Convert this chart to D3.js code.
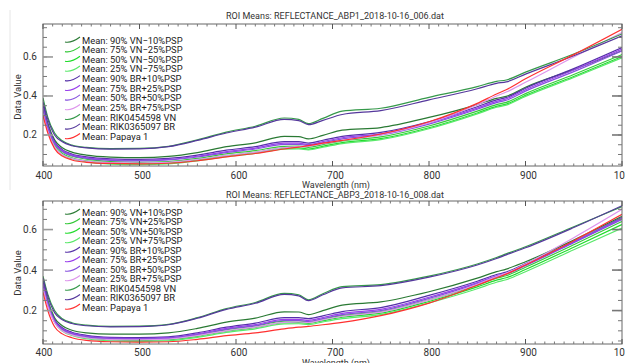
<!DOCTYPE html>
<html>
<head>
<meta charset="utf-8">
<script src="https://cdn.jsdelivr.net/npm/d3@7"></script>
<style>
  body { margin: 0; background: #fff; }
  svg { display: block; font-family: Roboto, "Noto Sans", sans-serif; }
</style>
</head>
<body>
<div id="chart"></div>
<script>
// Wavelength sample points (nm)
const wavelengths = [400, 405, 412, 420, 430, 445, 470, 500, 530, 560, 590, 620, 650, 665, 675, 690, 710, 750, 800, 850, 870, 880, 900, 950, 1000];

const xTicks = [400, 500, 600, 700, 800, 900, 1000];
const yTicks = [0.2, 0.4, 0.6];

const namesTop = [
  'Mean: 90% VN\u221210%PSP', 'Mean: 75% VN\u221225%PSP', 'Mean: 50% VN\u221250%PSP', 'Mean: 25% VN\u221275%PSP',
  'Mean: 90% BR+10%PSP', 'Mean: 75% BR+25%PSP', 'Mean: 50% BR+50%PSP', 'Mean: 25% BR+75%PSP',
  'Mean: RIK0454598 VN', 'Mean: RIK0365097 BR', 'Mean: Papaya 1'
];
const namesBottom = [
  'Mean: 90% VN+10%PSP', 'Mean: 75% VN+25%PSP', 'Mean: 50% VN+50%PSP', 'Mean: 25% VN+75%PSP',
  'Mean: 90% BR+10%PSP', 'Mean: 75% BR+25%PSP', 'Mean: 50% BR+50%PSP', 'Mean: 25% BR+75%PSP',
  'Mean: RIK0454598 VN', 'Mean: RIK0365097 BR', 'Mean: Papaya 1'
];
const colors = ['#2a7a34', '#36c93a', '#1fdc2a', '#5ae86a', '#5530a8', '#9a40ec', '#8650de', '#dd95ec', '#35994a', '#55389c', '#ff3030'];

// ABP1 (top panel) values, one array per series, same order as names
const top90VN  = [0.36, 0.26, 0.175, 0.135, 0.112, 0.097, 0.087, 0.084, 0.090, 0.110, 0.140, 0.160, 0.193, 0.192, 0.180, 0.198, 0.225, 0.238, 0.290, 0.356, 0.388, 0.398, 0.445, 0.535, 0.632];
const top75VN  = [0.35, 0.25, 0.160, 0.115, 0.092, 0.076, 0.064, 0.060, 0.064, 0.080, 0.103, 0.120, 0.142, 0.143, 0.137, 0.151, 0.170, 0.190, 0.246, 0.322, 0.356, 0.367, 0.412, 0.510, 0.612];
const top50VN  = [0.34, 0.24, 0.150, 0.105, 0.083, 0.067, 0.056, 0.052, 0.056, 0.072, 0.094, 0.111, 0.133, 0.134, 0.128, 0.142, 0.161, 0.181, 0.237, 0.313, 0.347, 0.358, 0.403, 0.500, 0.602];
const top25VN  = [0.33, 0.23, 0.145, 0.100, 0.078, 0.062, 0.051, 0.048, 0.052, 0.067, 0.089, 0.106, 0.128, 0.129, 0.124, 0.137, 0.156, 0.176, 0.232, 0.308, 0.342, 0.353, 0.398, 0.495, 0.596];
const top90BR  = [0.35, 0.25, 0.165, 0.125, 0.102, 0.088, 0.078, 0.075, 0.080, 0.097, 0.122, 0.140, 0.166, 0.166, 0.158, 0.173, 0.193, 0.213, 0.268, 0.345, 0.380, 0.392, 0.440, 0.540, 0.648];
const top75BR  = [0.34, 0.24, 0.160, 0.120, 0.098, 0.083, 0.073, 0.070, 0.075, 0.091, 0.115, 0.133, 0.158, 0.158, 0.151, 0.166, 0.186, 0.206, 0.262, 0.338, 0.372, 0.385, 0.432, 0.533, 0.640];
const top50BR  = [0.33, 0.235, 0.155, 0.115, 0.094, 0.080, 0.070, 0.067, 0.072, 0.087, 0.110, 0.128, 0.152, 0.152, 0.146, 0.160, 0.180, 0.200, 0.256, 0.332, 0.366, 0.378, 0.425, 0.525, 0.632];
const top25BR  = [0.31, 0.22, 0.140, 0.100, 0.080, 0.066, 0.058, 0.056, 0.060, 0.075, 0.095, 0.112, 0.135, 0.140, 0.142, 0.155, 0.172, 0.200, 0.262, 0.355, 0.400, 0.420, 0.470, 0.600, 0.725];
const topRikVN = [0.39, 0.29, 0.210, 0.170, 0.148, 0.136, 0.130, 0.131, 0.142, 0.175, 0.215, 0.245, 0.287, 0.280, 0.258, 0.285, 0.322, 0.337, 0.393, 0.448, 0.475, 0.482, 0.522, 0.615, 0.718];
const topRikBR = [0.37, 0.28, 0.200, 0.165, 0.145, 0.134, 0.128, 0.129, 0.140, 0.172, 0.210, 0.240, 0.280, 0.274, 0.253, 0.275, 0.305, 0.325, 0.380, 0.437, 0.465, 0.472, 0.512, 0.606, 0.708];
const topPapaya = [0.30, 0.21, 0.130, 0.092, 0.072, 0.060, 0.054, 0.052, 0.055, 0.068, 0.088, 0.105, 0.128, 0.138, 0.145, 0.158, 0.172, 0.205, 0.268, 0.362, 0.410, 0.432, 0.488, 0.612, 0.742];

// ABP3 (bottom panel) values
const bot90VN  = [0.35, 0.25, 0.165, 0.125, 0.103, 0.090, 0.084, 0.084, 0.090, 0.112, 0.143, 0.163, 0.194, 0.193, 0.180, 0.200, 0.227, 0.243, 0.293, 0.360, 0.392, 0.405, 0.441, 0.548, 0.665];
const bot75VN  = [0.35, 0.25, 0.155, 0.110, 0.088, 0.072, 0.061, 0.058, 0.062, 0.080, 0.106, 0.124, 0.148, 0.149, 0.144, 0.158, 0.176, 0.195, 0.253, 0.325, 0.360, 0.372, 0.414, 0.525, 0.640];
const bot50VN  = [0.34, 0.24, 0.148, 0.104, 0.082, 0.066, 0.055, 0.052, 0.056, 0.073, 0.098, 0.116, 0.140, 0.141, 0.137, 0.150, 0.167, 0.187, 0.245, 0.317, 0.350, 0.362, 0.403, 0.513, 0.625];
const bot25VN  = [0.33, 0.23, 0.142, 0.099, 0.077, 0.061, 0.050, 0.047, 0.051, 0.068, 0.092, 0.110, 0.134, 0.135, 0.131, 0.144, 0.160, 0.180, 0.238, 0.308, 0.340, 0.352, 0.392, 0.500, 0.607];
const bot90BR  = [0.34, 0.24, 0.155, 0.115, 0.093, 0.078, 0.068, 0.066, 0.070, 0.090, 0.118, 0.138, 0.165, 0.165, 0.160, 0.174, 0.195, 0.215, 0.275, 0.345, 0.378, 0.390, 0.432, 0.540, 0.660];
const bot75BR  = [0.33, 0.235, 0.150, 0.110, 0.089, 0.074, 0.064, 0.062, 0.066, 0.085, 0.112, 0.131, 0.157, 0.157, 0.152, 0.166, 0.186, 0.206, 0.266, 0.338, 0.372, 0.384, 0.426, 0.538, 0.655];
const bot50BR  = [0.32, 0.23, 0.145, 0.106, 0.085, 0.070, 0.061, 0.059, 0.063, 0.081, 0.107, 0.126, 0.151, 0.151, 0.146, 0.160, 0.180, 0.200, 0.260, 0.333, 0.367, 0.380, 0.422, 0.535, 0.650];
const bot25BR  = [0.31, 0.22, 0.140, 0.100, 0.080, 0.066, 0.057, 0.055, 0.059, 0.076, 0.100, 0.118, 0.142, 0.144, 0.141, 0.154, 0.172, 0.192, 0.252, 0.330, 0.368, 0.385, 0.430, 0.560, 0.700];
const botRikVN = [0.37, 0.28, 0.200, 0.160, 0.140, 0.128, 0.122, 0.123, 0.132, 0.165, 0.210, 0.240, 0.285, 0.278, 0.253, 0.283, 0.318, 0.328, 0.370, 0.430, 0.462, 0.480, 0.515, 0.614, 0.713];
const botRikBR = [0.36, 0.27, 0.190, 0.155, 0.136, 0.125, 0.120, 0.121, 0.130, 0.162, 0.206, 0.236, 0.280, 0.273, 0.249, 0.278, 0.312, 0.323, 0.365, 0.425, 0.457, 0.475, 0.510, 0.610, 0.718];
const botPapaya = [0.29, 0.20, 0.120, 0.085, 0.066, 0.053, 0.046, 0.044, 0.046, 0.058, 0.076, 0.090, 0.110, 0.118, 0.122, 0.130, 0.142, 0.175, 0.237, 0.325, 0.362, 0.380, 0.425, 0.545, 0.675];

const width = 625, height = 363;

const svg = d3.select('#chart').append('svg')
  .attr('width', width)
  .attr('height', height);

// faint window border on the left of the top screenshot
svg.append('line')
  .attr('x1', 10).attr('x2', 10).attr('y1', 10).attr('y2', 190)
  .style('stroke', '#e6e6e6').style('stroke-width', 1);

const panels = [
  {
    id: 'p1',
    title: 'ROI Means: REFLECTANCE_ABP1_2018-10-16_006.dat',
    names: namesTop,
    values: [top90VN, top75VN, top50VN, top25VN, top90BR, top75BR, top50BR, top25BR, topRikVN, topRikBR, topPapaya],
    top: 24, bottom: 166, yDomain: [0.041, 0.769],
    titleY: 19, xLabelY: 178.5, xTitleY: 187.5, yTitleY: 97, legendY: 40, legendStep: 9.65
  },
  {
    id: 'p2',
    title: 'ROI Means: REFLECTANCE_ABP3_2018-10-16_008.dat',
    names: namesBottom,
    values: [bot90VN, bot75VN, bot50VN, bot25VN, bot90BR, bot75BR, bot50BR, bot25BR, botRikVN, botRikBR, botPapaya],
    top: 201, bottom: 344, yDomain: [0.035, 0.741],
    titleY: 197.5, xLabelY: 356, xTitleY: 366, yTitleY: 273, legendY: 212, legendStep: 9.5
  }
];

const left = 43, right = 622;
const x = d3.scaleLinear().domain([400, 1000]).range([left, right]);

panels.forEach(p => {
  const y = d3.scaleLinear().domain(p.yDomain).range([p.bottom, p.top]);
  const g = svg.append('g');

  g.append('clipPath').attr('id', 'clip-' + p.id)
    .append('rect')
    .attr('x', left).attr('y', p.top)
    .attr('width', right - left).attr('height', p.bottom - p.top);

  // Title
  g.append('text')
    .attr('x', 335).attr('y', p.titleY)
    .attr('text-anchor', 'middle')
    .style('font-size', '9px').style('fill', '#333')
    .text(p.title);

  // Lines
  const line = d3.line()
    .x((d, i) => x(wavelengths[i]))
    .y(d => y(d))
    .curve(d3.curveMonotoneX);

  g.append('g').attr('clip-path', `url(#clip-${p.id})`)
    .selectAll('path')
    .data(p.values)
    .enter()
    .append('path')
    .attr('d', d => line(d))
    .style('fill', 'none')
    .style('stroke', (d, i) => colors[i])
    .style('stroke-width', 1.2);

  // Frame
  g.append('rect')
    .attr('x', left).attr('y', p.top)
    .attr('width', right - left).attr('height', p.bottom - p.top)
    .style('fill', 'none').style('stroke', '#666').style('stroke-width', 1);

  // X minor + major ticks (inward, top and bottom)
  const xMinor = d3.range(410, 1000, 10).filter(v => v % 100 !== 0);
  xMinor.forEach(v => {
    g.append('line').attr('x1', x(v)).attr('x2', x(v)).attr('y1', p.bottom).attr('y2', p.bottom - 2.5)
      .style('stroke', '#777');
    g.append('line').attr('x1', x(v)).attr('x2', x(v)).attr('y1', p.top).attr('y2', p.top + 2.5)
      .style('stroke', '#777');
  });
  xTicks.forEach(v => {
    g.append('line').attr('x1', x(v)).attr('x2', x(v)).attr('y1', p.bottom).attr('y2', p.bottom - 5)
      .style('stroke', '#555');
    g.append('line').attr('x1', x(v)).attr('x2', x(v)).attr('y1', p.top).attr('y2', p.top + 5)
      .style('stroke', '#555');
    g.append('text')
      .attr('x', x(v) + (v === 400 ? 1 : 3)).attr('y', p.xLabelY)
      .attr('text-anchor', 'middle')
      .style('font-size', '10px').style('fill', '#333')
      .text(v);
  });

  // Y minor ticks
  const yMinor = d3.range(0.05, 0.76, 0.05).filter(v => v > p.yDomain[0] && v < p.yDomain[1]);
  yMinor.forEach(v => {
    g.append('line').attr('x1', left).attr('x2', left + 4).attr('y1', y(v)).attr('y2', y(v))
      .style('stroke', '#777');
    g.append('line').attr('x1', right).attr('x2', right - 4).attr('y1', y(v)).attr('y2', y(v))
      .style('stroke', '#777');
  });
  yTicks.forEach(v => {
    g.append('line').attr('x1', left).attr('x2', left + 10).attr('y1', y(v)).attr('y2', y(v))
      .style('stroke', '#999').style('stroke-width', 1.6);
    g.append('line').attr('x1', right).attr('x2', right - 10).attr('y1', y(v)).attr('y2', y(v))
      .style('stroke', '#777').style('stroke-width', 1.6);
    g.append('text')
      .attr('x', 37).attr('y', y(v) + 3.5)
      .attr('text-anchor', 'end')
      .style('font-size', '10px').style('fill', '#333')
      .text(d3.format('.1f')(v));
  });

  // Axis titles
  g.append('text')
    .attr('x', 336).attr('y', p.xTitleY)
    .attr('text-anchor', 'middle')
    .style('font-size', '9px').style('fill', '#333')
    .text('Wavelength (nm)');

  g.append('text')
    .attr('transform', `translate(21, ${p.yTitleY}) rotate(-90)`)
    .attr('text-anchor', 'middle')
    .style('font-size', '9.5px').style('fill', '#333')
    .text('Data Value');

  // Legend
  const legend = g.append('g').attr('class', 'legend');
  p.names.forEach((name, i) => {
    const ly = p.legendY + i * p.legendStep;
    legend.append('path')
      .attr('d', `M65,${ly + 2} C70,${ly + 3} 74,${ly + 1.5} 80,${ly - 3}`)
      .style('fill', 'none')
      .style('stroke', colors[i])
      .style('stroke-width', 1.1);
    legend.append('text')
      .attr('x', 82).attr('y', ly + 3.5)
      .style('font-size', '9.4px').style('fill', '#222')
      .text(name);
  });
});
</script>
</body>
</html>
